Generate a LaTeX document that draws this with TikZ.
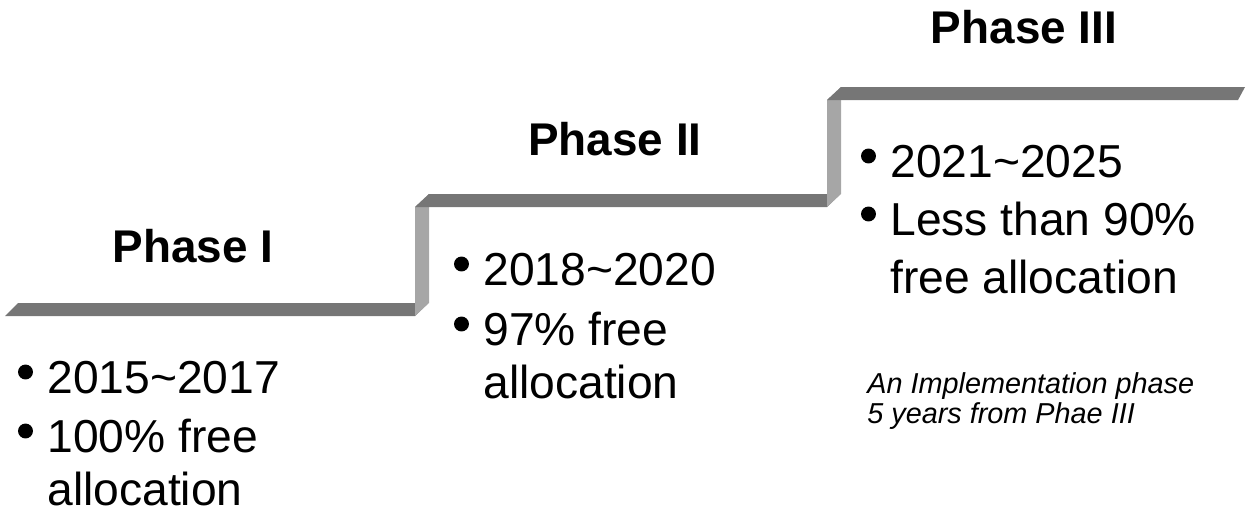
\documentclass[tikz,border=0pt]{standalone}
\usepackage{fontspec}
\setmainfont{Liberation Sans}
\definecolor{treadgray}{HTML}{767676}
\definecolor{risergray}{HTML}{A6A6A6}
\begin{document}
\begin{tikzpicture}[x=0.02cm, y=-0.02cm,
  tread/.style={fill=treadgray},
  riser/.style={fill=risergray},
  phase/.style={anchor=base, inner sep=0pt, font=\fontsize{26.1}{31}\selectfont\bfseries},
  item/.style={anchor=base west, inner sep=0pt, font=\fontsize{26.3}{31}\selectfont},
  note/.style={anchor=base west, inner sep=0pt, font=\fontsize{16.4}{17}\selectfont\itshape}]
\useasboundingbox (0,0) rectangle (1251,512);

% Draw the stairs
\fill[tread] (5,316) -- (415,316) -- (428,303) -- (18,303) -- cycle;
\fill[riser] (415,316) -- (415,207) -- (429,194) -- (429,303) -- cycle;
\fill[tread] (415,207) -- (827,207) -- (840,194) -- (429,194) -- cycle;
\fill[riser] (827,207) -- (827,100) -- (841,87) -- (841,194) -- cycle;
\fill[tread] (827,100) -- (1238,100) -- (1245,87) -- (841,87) -- cycle;

% Phase titles
\node[phase] (phaseone) at (193,262) {Phase I};
\node[phase] (phasetwo) at (615,155) {Phase II};
\node[phase] (phasethree) at (1024,43) {Phase III};

% Phase I items
\node[item] (oneyears) at (47,393) {2015\textasciitilde2017};
\node[item] (onefree) at (47,452) {100\% free};
\node[item] (onealloc) at (47,505) {allocation};
\fill ([shift={(-21.5,-21)}]oneyears.base west) circle (4.25pt);
\fill ([shift={(-21.5,-21)}]onefree.base west) circle (4.25pt);

% Phase II items
\node[item] (twoyears) at (483,285) {2018\textasciitilde2020};
\node[item] (twofree) at (483,345) {97\% free};
\node[item] (twoalloc) at (483,398) {allocation};
\fill ([shift={(-21.5,-21)}]twoyears.base west) circle (4.25pt);
\fill ([shift={(-21.5,-21)}]twofree.base west) circle (4.25pt);

% Phase III items
\node[item] (threeyears) at (890,177) {2021\textasciitilde2025};
\node[item] (threeless) at (890,235) {Less than 90\%};
\node[item] (threealloc) at (890,293) {free allocation};
\fill ([shift={(-21.5,-21)}]threeyears.base west) circle (4.25pt);
\fill ([shift={(-21.5,-21)}]threeless.base west) circle (4.25pt);

% Note
\node[note] (noteone) at (867,393) {An Implementation phase};
\node[note] (notetwo) at (867,423) {5 years from Phae III};
\end{tikzpicture}
\end{document}
